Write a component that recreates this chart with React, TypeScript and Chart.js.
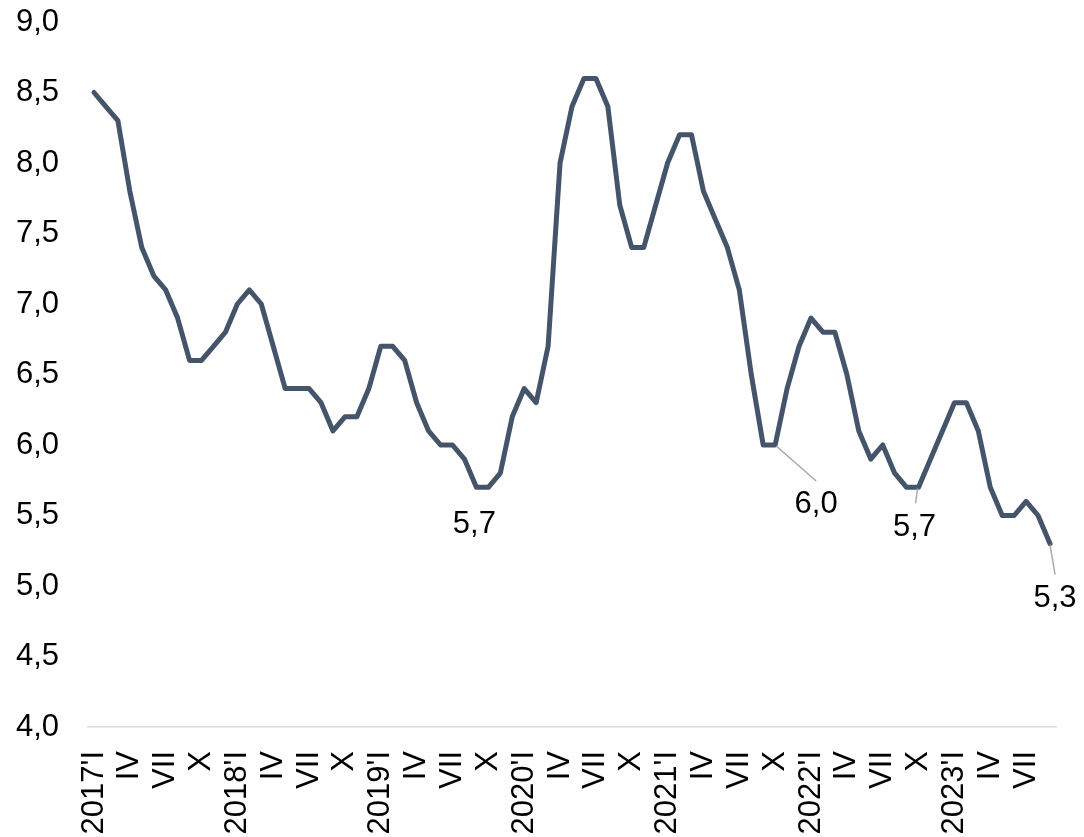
import React, { useEffect, useRef } from "react";
import { Chart, registerables } from "chart.js";

Chart.register(...registerables);

// Monthly rate, January 2017 – September 2023
const years = [2017, 2018, 2019, 2020, 2021, 2022, 2023];
const monthNumerals = ["I", "II", "III", "IV", "V", "VI", "VII", "VIII", "IX", "X", "XI", "XII"];

const rate2017 = [8.5, 8.4, 8.3, 7.8, 7.4, 7.2, 7.1, 6.9, 6.6, 6.6, 6.7, 6.8];
const rate2018 = [7.0, 7.1, 7.0, 6.7, 6.4, 6.4, 6.4, 6.3, 6.1, 6.2, 6.2, 6.4];
const rate2019 = [6.7, 6.7, 6.6, 6.3, 6.1, 6.0, 6.0, 5.9, 5.7, 5.7, 5.8, 6.2];
const rate2020 = [6.4, 6.3, 6.7, 8.0, 8.4, 8.6, 8.6, 8.4, 7.7, 7.4, 7.4, 7.7];
const rate2021 = [8.0, 8.2, 8.2, 7.8, 7.6, 7.4, 7.1, 6.5, 6.0, 6.0, 6.4, 6.7];
const rate2022 = [6.9, 6.8, 6.8, 6.5, 6.1, 5.9, 6.0, 5.8, 5.7, 5.7, 5.9, 6.1];
const rate2023 = [6.3, 6.3, 6.1, 5.7, 5.5, 5.5, 5.6, 5.5, 5.3];

const yearlyRates = [rate2017, rate2018, rate2019, rate2020, rate2021, rate2022, rate2023];

// Category labels: "2017'I" at each January, Roman month numeral otherwise
const categories: string[] = [];
yearlyRates.forEach((vals, yi) => {
  vals.forEach((_, mi) => {
    categories.push(mi === 0 ? `${years[yi]}'${monthNumerals[0]}` : monthNumerals[mi]);
  });
});
const rates: number[] = yearlyRates.flat();

// Y-axis range and step
const yMin = 4.0;
const yMax = 9.0;
const yStep = 0.5;

// Points that carry a value label (index into the monthly series)
const labelledPoints = [32, 57, 69, 80];

// Label placement around each labelled point: text centre offset, optional leader line
const labelPlacement: Record<number, { dx: number; dy: number; leader?: [number, number, number, number] }> = {
  32: { dx: -2, dy: 37 },
  57: { dx: 41, dy: 59, leader: [1, 1, 41, 36] },
  69: { dx: -4, dy: 40, leader: [-1, 1, -3, 16] },
  80: { dx: 5, dy: 55, leader: [0, 1, 5, 31] },
};

const fmt = (v: number) => v.toFixed(1).replace(".", ",");

const FONT = "'Liberation Sans', Arial, Helvetica, sans-serif";
const FONT_SIZE = 31;
const LINE_COLOR = "#44546a";

const valueLabels = {
  id: "valueLabels",
  afterDatasetsDraw(chart: any) {
    const { ctx } = chart;
    const meta = chart.getDatasetMeta(0);
    ctx.save();
    labelledPoints.forEach((idx) => {
      const pt = meta.data[idx];
      if (!pt) return;
      const place = labelPlacement[idx];
      if (place.leader) {
        const [x0, y0, x1, y1] = place.leader;
        ctx.beginPath();
        ctx.strokeStyle = "#a6a6a6";
        ctx.lineWidth = 1.4;
        ctx.moveTo(pt.x + x0, pt.y + y0);
        ctx.lineTo(pt.x + x1, pt.y + y1);
        ctx.stroke();
      }
      ctx.fillStyle = "#000000";
      ctx.font = `${FONT_SIZE}px ${FONT}`;
      ctx.textAlign = "center";
      ctx.textBaseline = "middle";
      ctx.fillText(fmt(rates[idx]), pt.x + place.dx, pt.y + place.dy);
    });
    ctx.restore();
  },
};

export default function App() {
  const canvasRef = useRef<HTMLCanvasElement | null>(null);

  useEffect(() => {
    if (!canvasRef.current) return;
    const chart = new Chart(canvasRef.current, {
      type: "line",
      data: {
        labels: categories,
        datasets: [
          {
            data: rates,
            borderColor: LINE_COLOR,
            borderWidth: 5,
            borderJoinStyle: "round",
            borderCapStyle: "round",
            pointRadius: 0,
            pointHoverRadius: 0,
            tension: 0,
            fill: false,
          },
        ],
      },
      options: {
        animation: false,
        responsive: false,
        devicePixelRatio: 1,
        layout: { padding: { top: 22, right: 28, left: 0, bottom: 0 } },
        plugins: {
          legend: { display: false },
          tooltip: { enabled: false },
        },
        scales: {
          x: {
            type: "category",
            offset: true,
            grid: { display: false, drawTicks: false },
            border: { display: true, color: "#d9d9d9", width: 1.5 },
            afterFit: (scale: any) => {
              scale.height = 110;
              scale.paddingLeft = 0;
              scale.paddingRight = 0;
              scale.paddingTop = 0;
              scale.paddingBottom = 0;
            },
            ticks: {
              autoSkip: false,
              minRotation: 90,
              maxRotation: 90,
              padding: 24,
              color: "#000000",
              font: { family: FONT, size: FONT_SIZE },
              callback: (_v: any, index: number) => (index % 3 === 0 ? categories[index] : ""),
            },
          },
          y: {
            min: yMin,
            max: yMax,
            grid: { display: false, drawTicks: false },
            border: { display: false },
            afterFit: (scale: any) => {
              scale.width = 88;
              scale.paddingLeft = 0;
              scale.paddingRight = 0;
              scale.paddingTop = 0;
              scale.paddingBottom = 0;
            },
            ticks: {
              stepSize: yStep,
              padding: 29,
              color: "#000000",
              font: { family: FONT, size: FONT_SIZE },
              callback: (v: any) => fmt(Number(v)),
            },
          },
        },
      },
      plugins: [valueLabels],
    });
    return () => chart.destroy();
  }, []);

  return (
    <div style={{ position: "absolute", left: 0, top: 0, width: 1084, height: 837, background: "#ffffff" }}>
      <canvas ref={canvasRef} width={1084} height={837} style={{ display: "block" }} />
    </div>
  );
}
